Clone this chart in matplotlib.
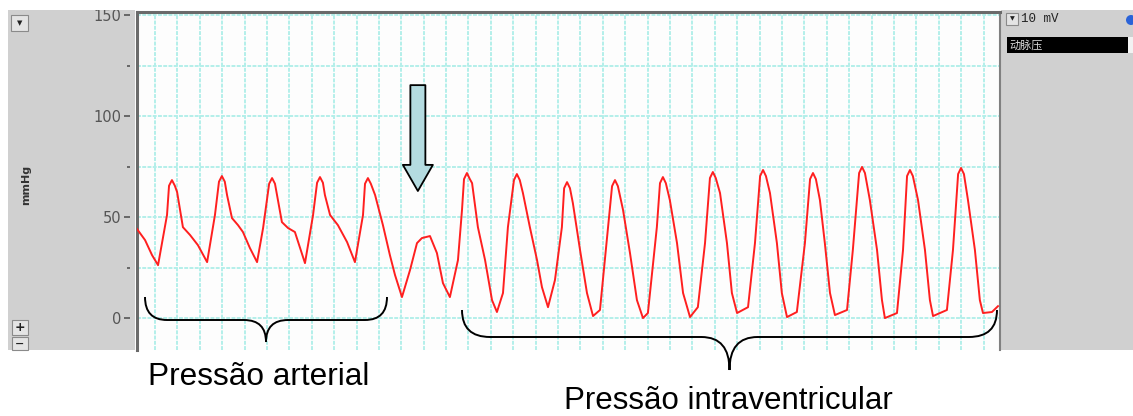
import numpy as np
import matplotlib.pyplot as plt
from matplotlib.patches import Rectangle, PathPatch, Ellipse
from matplotlib.path import Path
from matplotlib.ticker import FixedLocator

# pressure trace (time in s, pressure in mmHg)
time_s = [0.000, 0.036, 0.067, 0.094, 0.134, 0.143, 0.156, 0.169, 0.179, 0.205,
          0.237, 0.272, 0.313, 0.348, 0.366, 0.379, 0.392, 0.402, 0.424, 0.451,
          0.473, 0.504, 0.536, 0.563, 0.590, 0.603, 0.616, 0.625, 0.647, 0.674,
          0.705, 0.728, 0.750, 0.786, 0.804, 0.817, 0.830, 0.839, 0.862, 0.897,
          0.938, 0.973, 1.009, 1.018, 1.031, 1.044, 1.063, 1.098, 1.129, 1.152,
          1.183, 1.219, 1.250, 1.272, 1.308, 1.339, 1.366, 1.397, 1.433, 1.451,
          1.460, 1.473, 1.486, 1.496, 1.522, 1.554, 1.585, 1.607, 1.634, 1.656,
          1.683, 1.696, 1.709, 1.723, 1.754, 1.786, 1.808, 1.835, 1.866, 1.897,
          1.907, 1.920, 1.933, 1.946, 1.978, 2.009, 2.036, 2.067, 2.103, 2.121,
          2.134, 2.147, 2.170, 2.201, 2.232, 2.259, 2.281, 2.321, 2.335, 2.348,
          2.361, 2.379, 2.411, 2.438, 2.469, 2.504, 2.536, 2.558, 2.571, 2.584,
          2.603, 2.634, 2.656, 2.679, 2.728, 2.759, 2.782, 2.795, 2.808, 2.826,
          2.857, 2.879, 2.902, 2.946, 2.982, 3.005, 3.018, 3.031, 3.049, 3.071,
          3.094, 3.116, 3.170, 3.196, 3.224, 3.237, 3.250, 3.272, 3.304, 3.326,
          3.339, 3.393, 3.420, 3.438, 3.451, 3.464, 3.487, 3.518, 3.540, 3.554,
          3.616, 3.643, 3.666, 3.679, 3.692, 3.710, 3.741, 3.763, 3.777, 3.817,
          3.844]
pressure_mmhg = [44.1, 38.6, 31.2, 26.2, 51.0, 65.5, 68.3, 65.5, 62.4, 45.0,
                 41.1, 36.1, 27.7, 51.0, 67.5, 70.3, 67.5, 60.9, 49.5, 46.0,
                 42.6, 34.7, 27.7, 44.6, 66.5, 69.3, 66.5, 60.9, 47.5, 44.6,
                 42.6, 34.7, 27.2, 51.0, 67.0, 69.8, 67.0, 60.9, 51.0, 46.0,
                 37.6, 27.7, 51.0, 66.5, 69.3, 66.5, 60.9, 46.0, 31.2, 21.3,
                 10.4, 23.8, 37.1, 39.6, 40.6, 32.2, 17.3, 10.4, 28.7, 53.5,
                 68.8, 71.8, 68.8, 66.8, 45.0, 28.7, 8.9, 3.0, 12.4, 45.0,
                 68.3, 71.3, 68.3, 61.9, 45.0, 28.7, 15.3, 5.4, 18.8, 45.0,
                 64.3, 67.3, 64.3, 56.9, 33.7, 12.4, 1.0, 4.0, 45.0, 65.3,
                 68.3, 65.3, 53.5, 32.2, 8.9, 0.0, 2.5, 45.0, 66.8, 69.8,
                 66.8, 58.4, 37.1, 12.4, 0.5, 5.4, 37.1, 69.3, 72.3, 69.3,
                 61.9, 37.1, 12.4, 2.5, 5.4, 37.1, 70.3, 73.3, 70.3, 61.9,
                 37.1, 12.4, 0.5, 3.0, 37.1, 68.8, 71.8, 68.8, 58.4, 37.1,
                 12.4, 1.5, 4.0, 33.7, 71.8, 74.8, 71.8, 58.4, 33.7, 8.9,
                 0.0, 2.5, 33.7, 70.3, 73.3, 70.3, 58.4, 33.7, 8.9, 1.0,
                 4.0, 33.7, 71.3, 74.3, 71.3, 58.4, 33.7, 8.9, 2.5, 3.0,
                 5.9]

y_major = [0, 50, 100, 150]
y_minor = [25, 75, 125]

W, H = 1133, 416


def fx(px):
    return px / W


def fy(py):
    return 1 - py / H


def box(x0, y0, x1, y1, **kw):
    # rectangle in screen pixels (y down)
    r = Rectangle((fx(x0), fy(y1)), fx(x1) - fx(x0), fy(y0) - fy(y1),
                  transform=fig.transFigure, **kw)
    fig.add_artist(r)
    return r


def brace(x0, x1, ytop, ymid, ytip, r):
    xc = (x0 + x1) / 2
    pts = [(x0, ytop), (x0, ymid), (x0 + r, ymid),
           (xc - r, ymid), (xc, ymid), (xc, ytip),
           (xc, ymid), (xc + r, ymid),
           (x1 - r, ymid), (x1, ymid), (x1, ytop)]
    codes = [Path.MOVETO, Path.CURVE3, Path.CURVE3,
             Path.LINETO, Path.CURVE3, Path.CURVE3,
             Path.CURVE3, Path.CURVE3,
             Path.LINETO, Path.CURVE3, Path.CURVE3]
    verts = [(fx(x), fy(y)) for x, y in pts]
    fig.add_artist(PathPatch(Path(verts, codes), transform=fig.transFigure,
                             fc='none', ec='black', lw=1.4, zorder=5))


fig = plt.figure(figsize=(W / 100, H / 100), dpi=100)

# gray side panels of the recorder window
box(8, 10, 135, 350, fc='#d0d0d0', ec='none', zorder=-2)
box(1001, 10, 1133, 350, fc='#d0d0d0', ec='none', zorder=-2)

ax = fig.add_axes([fx(137), fy(350), fx(1000) - fx(137), fy(12) - fy(350)])
ax.set_facecolor('#fdfdfd')
ax.plot(time_s, pressure_mmhg, color='#ff1f1f', lw=1.4, zorder=3)
ax.set_xlim(0, 3.853)
ax.set_ylim(-15.8, 151.5)

ax.set_xticks(np.arange(0.08, 3.85, 0.1))
ax.set_yticks(np.arange(0, 151, 25))
ax.tick_params(length=0, labelleft=False, labelbottom=False)
ax.grid(True, color='#b3efea', lw=1.4, ls=(0, (2, 0.7)))
ax.set_axisbelow(True)

for side in ['left', 'top']:
    ax.spines[side].set_color('#6a6a6a')
    ax.spines[side].set_linewidth(2.2)
ax.spines['right'].set_color('#808080')
ax.spines['right'].set_linewidth(1.5)
ax.spines['bottom'].set_visible(False)

sec = ax.secondary_yaxis(-0.0085)
sec.spines['left'].set_visible(False)
sec.set_yticks(y_major)
sec.set_yticklabels([str(v) for v in y_major])
sec.yaxis.set_minor_locator(FixedLocator(y_minor))
sec.tick_params(which='major', length=4, width=1.2, color='#555555', pad=2,
                labelsize=10.5, labelcolor='#555555')
sec.tick_params(which='minor', length=2.5, width=1.2, color='#555555')

fig.text(fx(26), fy(185), 'mmHg', rotation=90, ha='center', va='center',
         fontsize=8, fontweight='bold', color='#333333')

# arrow marking the catheter passing into the ventricle
ax.annotate('', xy=(1.254, 62.9), xytext=(1.254, 115.3),
            arrowprops=dict(arrowstyle='simple,head_length=0.94,head_width=1.08,tail_width=0.54',
                            fc='#b4dbe0', ec='black', lw=1.3, mutation_scale=20,
                            shrinkA=0, shrinkB=0), zorder=4)

# small window buttons
box(11, 15, 28, 31, fc='#e4e4e4', ec='#8a8a8a', lw=0.8, zorder=2)
fig.text(fx(19.5), fy(23), '▼', ha='center', va='center', fontsize=5, color='#222222')
box(12, 320, 28, 335, fc='#e4e4e4', ec='#8a8a8a', lw=0.8, zorder=2)
fig.text(fx(20), fy(327.5), '+', ha='center', va='center', fontsize=9,
         fontweight='bold', color='#222222')
box(12, 337, 28, 350, fc='#e4e4e4', ec='#8a8a8a', lw=0.8, zorder=2)
fig.text(fx(20), fy(343.5), '−', ha='center', va='center', fontsize=8,
         fontweight='bold', color='#222222')

box(1006, 13, 1018, 25, fc='#e4e4e4', ec='#8a8a8a', lw=0.8, zorder=2)
fig.text(fx(1012), fy(19), '▼', ha='center', va='center', fontsize=4.5, color='#222222')
fig.text(fx(1021), fy(19), '10 mV', ha='left', va='center', fontsize=9,
         family='Liberation Mono', color='#222222')
fig.add_artist(Ellipse((fx(1131), fy(20)), 10 / W, 10 / H, transform=fig.transFigure,
                       fc='#2a63d8', ec='none', zorder=2))
box(1007, 37, 1128, 53, fc='black', ec='none', zorder=2)
box(1128, 37, 1133, 53, fc='#f2f2f2', ec='none', zorder=2)
fig.text(fx(1009), fy(45.5), '动脉压', ha='left', va='center', fontsize=8,
         family=['Noto Sans CJK SC', 'DejaVu Sans'], color='#d8d8d8', zorder=3)

# white margin that clips the top of the window
box(0, 0, W, 10, fc='white', ec='none', zorder=10)

brace(145, 387, 297, 320, 342, 22)
brace(462, 997, 310, 337, 370, 28)

fig.text(fx(259), fy(385), 'Pressão arterial', ha='center', va='baseline',
         fontsize=22.8, family='Liberation Sans', color='black')
fig.text(fx(728), fy(409), 'Pressão intraventricular', ha='center', va='baseline',
         fontsize=22.5, family='Liberation Sans', color='black')

fig.savefig('out.png', dpi=100, facecolor='white')
